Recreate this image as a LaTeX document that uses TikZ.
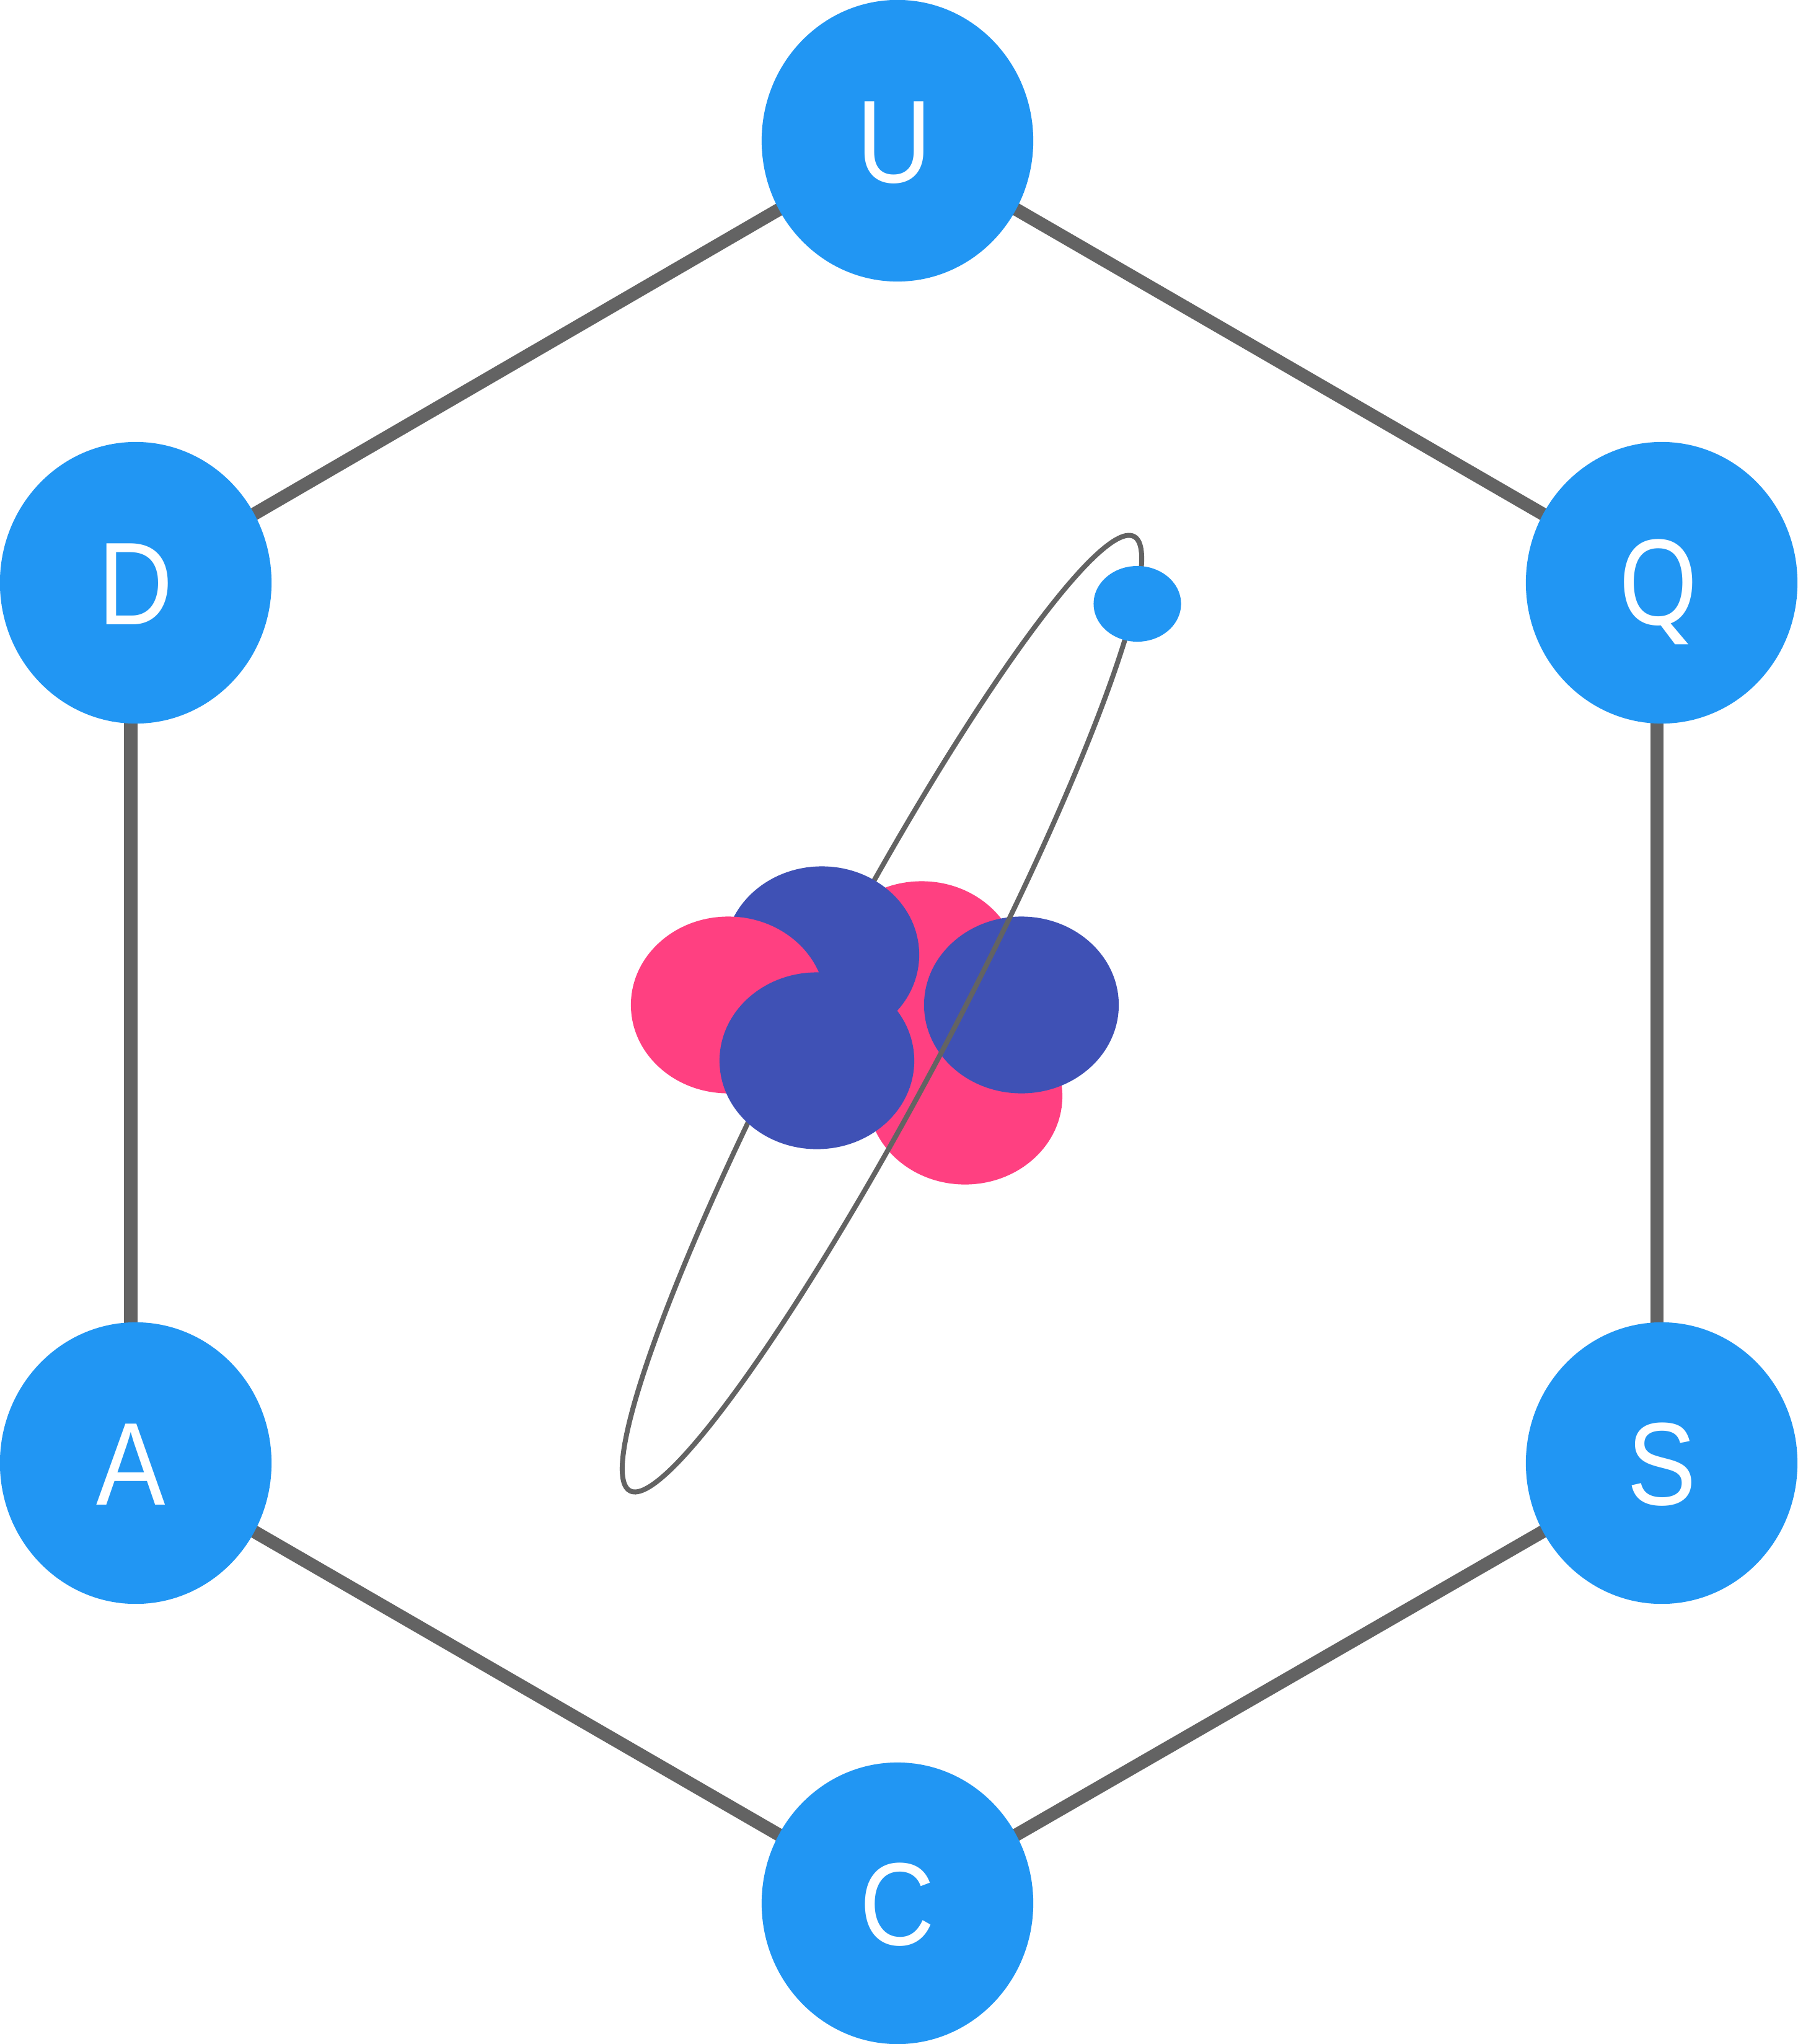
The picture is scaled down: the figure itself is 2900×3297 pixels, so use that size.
\documentclass[tikz,border=0pt]{standalone}
\usepackage{fontspec}
\setmainfont[FakeStretch=.88]{Liberation Sans}
\newfontfamily\tailfont[FakeStretch=.88]{Noto Sans}
\usepackage{tikz}
\usetikzlibrary{shapes.geometric}
\usetikzlibrary{backgrounds}
\usepackage{xcolor}
\definecolor{letterblue}{HTML}{2196F3}
\definecolor{protonpink}{HTML}{FF4081}
\definecolor{neutronnavy}{HTML}{3F51B5}
\definecolor{edgegrey}{HTML}{636363}
\tikzset{
	blob/.style={ellipse,inner sep=0pt,outer sep=0pt,minimum width=3.14cm,minimum height=2.85cm},
	proton/.style={blob,fill=protonpink},
	neutron/.style={blob,fill=neutronnavy},
	letternode/.style={ellipse,inner sep=0pt,outer sep=0pt,fill=letterblue,text=white,
		minimum width=4.38cm,minimum height=4.54cm,
		font=\fontsize{54}{60}\selectfont,text height=38.4pt,text depth=0pt},
	edgeline/.style={draw=edgegrey,line width=.21cm},
}

\begin{document}
\begin{tikzpicture}[x=.01cm,y=-.01cm]
	  \useasboundingbox (0,0) rectangle (2900,3297);
	  % outer ring
	  \foreach \name/\px/\py/\txt in {U/1448/227/\kern-.1cm U,Q/2681/940/\kern-.1cm\tailfont Q,S/2681/2360/S,C/1448/3070/C,A/219/2360/\kern-.16cm A,D/219/940/D} {
	    \node[letternode] (\name) at (\px,\py) {\txt};
	  };
	  \begin{pgfonlayer}{background}
	    \foreach \from/\to in {U/Q,S/C,C/A,D/U} {
	      \draw[edgeline] (\from.center) -- (\to.center);
	    };
	    \foreach \from/\to in {Q/S,A/D} {
	      \draw[edgeline] ([xshift=-.08cm]\from.center) -- ([xshift=-.08cm]\to.center);
	    };
	  \end{pgfonlayer}
	  % atom
	  \node[proton] (protontop) at (1487,1564) {};
	  \node[proton] (protonlow) at (1557,1768) {};
	  \node[neutron] (neutronright) at (1648,1621) {};
	  \node[ellipse,draw=edgegrey,line width=.08cm,inner sep=0pt,minimum width=17.4cm,minimum height=2.28cm,rotate=62.15] (orbit) at (1423,1635) {};
	  \node[neutron] (neutrontop) at (1326,1540) {};
	  \node[proton] (protonleft) at (1175,1621) {};
	  \node[neutron] (neutronlow) at (1318,1711) {};
	  \node[ellipse,inner sep=0pt,fill=letterblue,minimum width=1.41cm,minimum height=1.22cm] (electron) at (1835,974) {};
	\end{tikzpicture}
\end{document}
